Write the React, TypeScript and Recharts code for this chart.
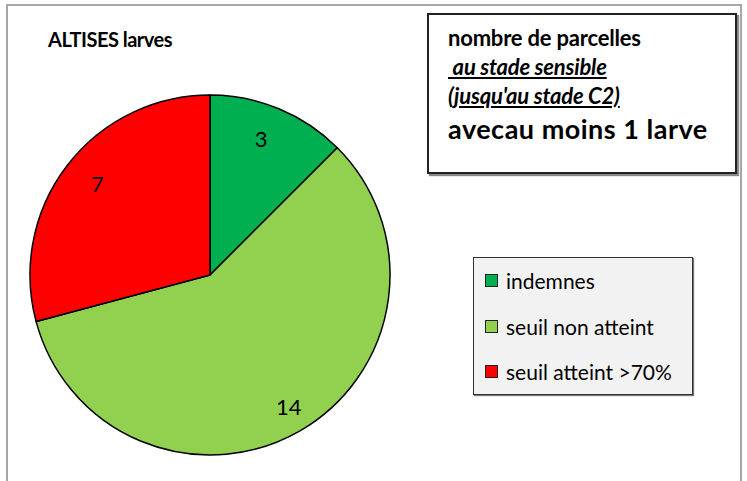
import React from 'react';
import { PieChart, Pie, Cell, Legend } from 'recharts';

const categories = ['indemnes', 'seuil non atteint', 'seuil atteint >70%'];
const counts = [3, 14, 7];
const colors = ['#00B050', '#92D050', '#FF0000'];

const data = categories.map((name, i) => ({ name, value: counts[i] }));
const total = counts.reduce((a, b) => a + b, 0);

// label placement per slice: small angle nudge (degrees) and distance from centre
const labelShift = [
  { da: -2, r: 146 },
  { da: -1, r: 153 },
  { da: 1.5, r: 145 },
];

const FONT = "Lato, 'Open Sans', sans-serif";

const renderLabel = (props: any) => {
  const { cx, cy, index, value } = props;
  const before = counts.slice(0, index).reduce((a, b) => a + b, 0);
  const mid = ((before + counts[index] / 2) / total) * 360; // clockwise from top
  const s = labelShift[index];
  const phi = ((mid + s.da) * Math.PI) / 180;
  const x = cx + s.r * Math.sin(phi);
  const y = cy - s.r * Math.cos(phi);
  return (
    <text x={x} y={y} textAnchor="middle" dominantBaseline="central" fontSize={22} fill="#000" fontFamily={FONT}>
      {value}
    </text>
  );
};

const LegendBox = (props: any) => {
  const payload = [...(props.payload || [])].sort(
    (a: any, b: any) => categories.indexOf(a.value) - categories.indexOf(b.value)
  );
  return (
    <div
      style={{
        width: 220,
        height: 138,
        background: '#F2F2F2',
        border: '1.5px solid #333',
        boxShadow: '1px 1px 1px #777',
        boxSizing: 'border-box',
        paddingLeft: 11,
        fontFamily: FONT,
        fontSize: 21,
        color: '#000',
      }}
    >
      {payload.map((p: any, i: number) => (
        <div key={i} style={{ display: 'flex', alignItems: 'center', height: 45.5 }}>
          <span
            style={{
              width: 11,
              height: 11,
              background: p.color,
              border: '1.5px solid #222',
              marginRight: 8,
              display: 'inline-block',
              flex: 'none',
            }}
          />
          <span>{p.value}</span>
        </div>
      ))}
    </div>
  );
};

export default function App() {
  return (
    <div style={{ position: 'absolute', left: 0, top: 0, width: 747, height: 481, background: '#fff', overflow: 'hidden' }}>
      <div
        style={{
          position: 'absolute',
          left: 6,
          top: 4,
          width: 736,
          height: 490,
          border: '2px solid #A6A6A6',
          boxSizing: 'border-box',
        }}
      />
      <PieChart
        width={747}
        height={481}
        margin={{ top: 0, right: 0, bottom: 0, left: 0 }}
        style={{ position: 'absolute', left: 0, top: 0 }}
      >
        <Pie
          data={data}
          dataKey="value"
          nameKey="name"
          cx={210}
          cy={275}
          outerRadius={180}
          startAngle={90}
          endAngle={-270}
          stroke="#000"
          strokeWidth={1.5}
          label={renderLabel}
          labelLine={false}
          legendType="square"
          isAnimationActive={false}
        >
          {data.map((d, i) => (
            <Cell key={d.name} fill={colors[i]} />
          ))}
        </Pie>
        <Legend
          content={<LegendBox />}
          layout="horizontal"
          verticalAlign="bottom"
          align="left"
          wrapperStyle={{ position: 'absolute', left: 473, top: 257, bottom: 'auto', width: 220 }}
        />
      </PieChart>
      <div
        style={{
          position: 'absolute',
          left: 48,
          top: 27,
          fontFamily: FONT,
          fontWeight: 700,
          fontSize: 20,
          letterSpacing: -0.5,
          color: '#000',
        }}
      >
        ALTISES larves
      </div>
      <div
        style={{
          position: 'absolute',
          left: 427,
          top: 13,
          width: 310,
          height: 161,
          border: '2px solid #222',
          boxShadow: '2px 2px 1px #888',
          boxSizing: 'border-box',
          padding: '9px 0 0 19px',
          fontFamily: FONT,
          color: '#000',
        }}
      >
        <div style={{ fontWeight: 700, fontSize: 22, lineHeight: '28px', letterSpacing: -0.2 }}>nombre de parcelles</div>
        <div
          style={{
            fontWeight: 700,
            fontStyle: 'italic',
            fontSize: 22,
            lineHeight: '29px',
            textDecoration: 'underline',
            whiteSpace: 'pre',
            letterSpacing: -0.2,
          }}
        >
          {' au stade sensible'}
        </div>
        <div
          style={{
            fontWeight: 700,
            fontStyle: 'italic',
            fontSize: 22,
            lineHeight: '29px',
            textDecoration: 'underline',
            letterSpacing: -0.2,
          }}
        >
          (jusqu'au stade C2)
        </div>
        <div style={{ fontWeight: 700, fontSize: 27, lineHeight: '38px', letterSpacing: 0.5 }}>avecau moins 1 larve</div>
      </div>
    </div>
  );
}
